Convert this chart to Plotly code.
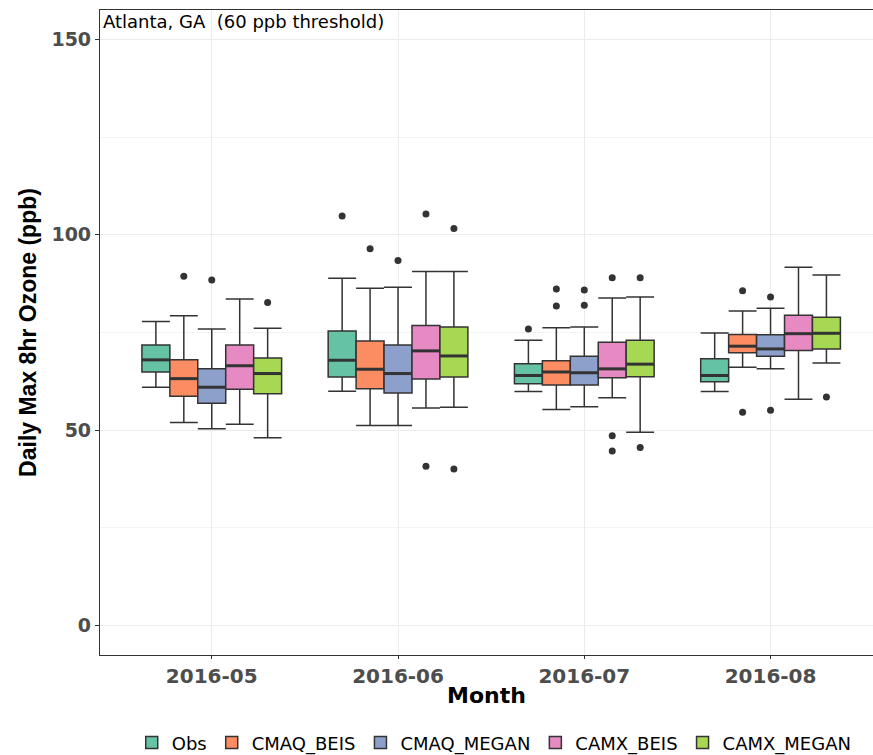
import plotly.graph_objects as go

# Daily max 8-hr ozone (ppb), Atlanta GA, summer 2016: box summaries by month
months = ["2016-05", "2016-06", "2016-07", "2016-08"]
series = ["Obs", "CMAQ_BEIS", "CMAQ_MEGAN", "CAMX_BEIS", "CAMX_MEGAN"]
colors = ["#66C2A5", "#FC8D62", "#8DA0CB", "#E78AC3", "#A6D854"]

obs_lower = [61.0, 60.0, 59.9, 59.9]
obs_q1 = [64.9, 63.6, 61.9, 62.4]
obs_median = [68.0, 67.9, 64.0, 64.0]
obs_q3 = [71.8, 75.4, 67.0, 68.3]
obs_upper = [77.8, 88.9, 73.0, 74.9]
obs_outliers = [[], [104.8], [75.9], []]

cmaq_beis_lower = [52.0, 51.2, 55.3, 66.1]
cmaq_beis_q1 = [58.7, 60.6, 61.6, 69.8]
cmaq_beis_median = [63.2, 65.6, 64.9, 71.5]
cmaq_beis_q3 = [68.0, 72.8, 67.8, 74.5]
cmaq_beis_upper = [79.3, 86.3, 76.2, 80.5]
cmaq_beis_outliers = [[89.4], [96.4], [86.1, 81.8], [85.7, 54.6]]

cmaq_megan_lower = [50.4, 51.2, 56.0, 65.7]
cmaq_megan_q1 = [56.9, 59.5, 61.6, 68.9]
cmaq_megan_median = [61.0, 64.5, 64.7, 70.8]
cmaq_megan_q3 = [65.7, 71.8, 68.9, 74.4]
cmaq_megan_upper = [75.9, 86.6, 76.4, 81.2]
cmaq_megan_outliers = [[88.4], [93.4], [85.9, 82.0], [84.1, 55.1]]

camx_beis_lower = [51.5, 55.7, 58.3, 57.9]
camx_beis_q1 = [60.5, 63.1, 63.4, 70.4]
camx_beis_median = [66.5, 70.3, 65.7, 74.7]
camx_beis_q3 = [71.8, 76.8, 72.5, 79.4]
camx_beis_upper = [83.6, 90.6, 83.8, 91.7]
camx_beis_outliers = [[], [105.3, 40.8], [89.0, 48.6, 44.7], []]

camx_megan_lower = [48.1, 55.9, 49.5, 67.2]
camx_megan_q1 = [59.3, 63.6, 63.7, 70.8]
camx_megan_median = [64.5, 69.0, 66.9, 74.8]
camx_megan_q3 = [68.5, 76.4, 73.0, 78.9]
camx_megan_upper = [76.1, 90.6, 84.1, 89.7]
camx_megan_outliers = [[82.7], [101.6, 40.1], [89.0, 45.6], [58.5]]

stats = [
    (obs_lower, obs_q1, obs_median, obs_q3, obs_upper, obs_outliers),
    (cmaq_beis_lower, cmaq_beis_q1, cmaq_beis_median, cmaq_beis_q3, cmaq_beis_upper, cmaq_beis_outliers),
    (cmaq_megan_lower, cmaq_megan_q1, cmaq_megan_median, cmaq_megan_q3, cmaq_megan_upper, cmaq_megan_outliers),
    (camx_beis_lower, camx_beis_q1, camx_beis_median, camx_beis_q3, camx_beis_upper, camx_beis_outliers),
    (camx_megan_lower, camx_megan_q1, camx_megan_median, camx_megan_q3, camx_megan_upper, camx_megan_outliers),
]

DARK = "#333333"
box_w = 0.15            # dodge width 0.75 split among 5 series
positions = list(range(1, len(months) + 1))

fig = go.Figure()
median_x, median_y, out_x, out_y = [], [], [], []
for j, (name, col, (lo, q1, med, q3, up, outl)) in enumerate(zip(series, colors, stats)):
    off = (j - (len(series) - 1) / 2) * box_w
    xs = [p + off for p in positions]
    fig.add_trace(go.Box(
        name=name, x=xs, lowerfence=lo, q1=q1, median=med, q3=q3, upperfence=up,
        width=box_w, whiskerwidth=1, boxpoints=False,
        fillcolor=col, line=dict(color=DARK, width=1.5), hoverinfo="skip",
    ))
    for x, m, ol in zip(xs, med, outl):
        median_x += [x - box_w / 2, x + box_w / 2, None]
        median_y += [m, m, None]
        out_x += [x] * len(ol)
        out_y += ol

# thicker median bars
fig.add_trace(go.Scatter(x=median_x, y=median_y, mode="lines",
                         line=dict(color=DARK, width=3), showlegend=False, hoverinfo="skip"))
# outlying points
fig.add_trace(go.Scatter(x=out_x, y=out_y, mode="markers",
                         marker=dict(color=DARK, size=7), showlegend=False, hoverinfo="skip"))

fig.add_annotation(text="Atlanta, GA\u00a0 (60 ppb threshold)", xref="paper", yref="paper",
                   x=0, y=1, xanchor="left", yanchor="top", xshift=1, yshift=1, showarrow=False,
                   font=dict(family="DejaVu Sans", size=18, color="black"))

fig.update_layout(
    width=873, height=755,
    margin=dict(l=100, r=0, t=10, b=100, autoexpand=False),
    plot_bgcolor="white", paper_bgcolor="white",
    boxmode="overlay",
    showlegend=True,
    legend=dict(orientation="h", x=0.51, xanchor="center",
                yref="container", y=0.016, yanchor="middle",
                font=dict(family="DejaVu Sans", size=18, color="black"),
                itemwidth=30, traceorder="normal"),
    xaxis=dict(
        range=[0.4, 4.55], tickmode="array", tickvals=positions, ticktext=months,
        showgrid=True, gridcolor="#EBEBEB", gridwidth=1.2, zeroline=False,
        showline=True, linecolor=DARK, linewidth=1.2, mirror=True,
        ticks="outside", ticklen=3, tickcolor=DARK,
        tickfont=dict(family="DejaVu Sans", size=20, color="#4D4D4D", weight="bold"),
        title=dict(text="Month", standoff=0,
                   font=dict(family="DejaVu Sans", size=22, color="black", weight="bold")),
    ),
    yaxis=dict(
        range=[-7.5, 157.5], tickmode="array", tickvals=[0, 50, 100, 150],
        showgrid=True, gridcolor="#EBEBEB", gridwidth=1.2, zeroline=False,
        minor=dict(tickvals=[25, 75, 125], showgrid=True, gridcolor="#F3F3F3", gridwidth=1),
        showline=True, linecolor=DARK, linewidth=1.2,
        ticks="outside", ticklen=4, tickcolor=DARK,
        tickfont=dict(family="DejaVu Sans", size=19, color="#4D4D4D", weight="bold"),
        title=dict(text="Daily Max 8hr Ozone (ppb)", standoff=8,
                   font=dict(family="Liberation Sans", size=23, color="black", weight="bold")),
    ),
)

fig.write_html("out.html")
